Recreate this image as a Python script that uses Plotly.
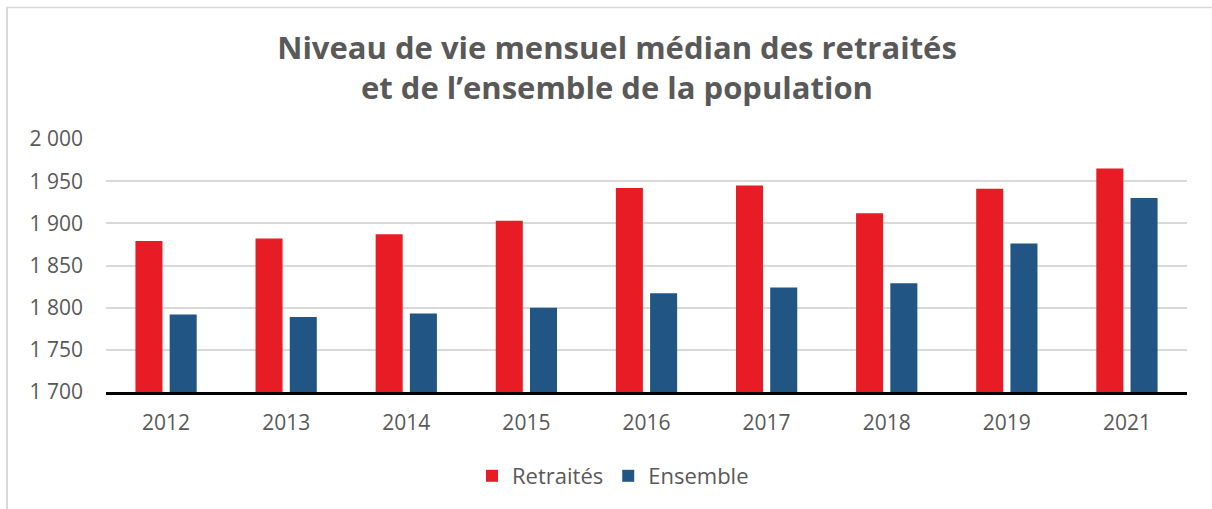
import plotly.graph_objects as go

years = ["2012", "2013", "2014", "2015", "2016", "2017", "2018", "2019", "2021"]
retraites = [1879, 1882, 1887, 1903, 1942, 1945, 1912, 1941, 1965]
ensemble = [1792, 1789, 1793, 1800, 1817, 1824, 1829, 1876, 1930]
y_ticks = [1700, 1750, 1800, 1850, 1900, 1950, 2000]
y_tick_labels = ["1 700", "1 750", "1 800", "1 850", "1 900", "1 950", "2 000"]

W, H = 1212, 509
ML, MR, MT, MB = 106, 25, 139, 117
PW, PH = W - ML - MR, H - MT - MB

def px(x):
    return (x - ML) / PW

def py(y):
    return (H - MB - y) / PH

FONT = "Open Sans"
GRAY = "#595959"

fig = go.Figure()
fig.add_trace(go.Bar(x=years, y=retraites, name="Retraités",
                     marker=dict(color="#E81C24", line=dict(width=0))))
fig.add_trace(go.Bar(x=years, y=ensemble, name="Ensemble",
                     marker=dict(color="#215584", line=dict(width=0))))

fig.update_layout(
    width=W, height=H,
    margin=dict(l=ML, r=MR, t=MT, b=MB),
    paper_bgcolor="white", plot_bgcolor="white",
    barmode="group", bargap=0.43, bargroupgap=0.21,
    title=dict(text="<b>Niveau de vie mensuel médian des retraités<br>et de l’ensemble de la population</b>",
               x=px(617), xanchor="center", xref="paper",
               y=1 - 59 / H, yanchor="top",
               font=dict(family=FONT, size=31, color=GRAY)),
    font=dict(family=FONT, color=GRAY),
    showlegend=True,
    legend=dict(orientation="h", x=px(613), xanchor="center", y=py(476), yanchor="middle",
                font=dict(family=FONT, size=22, color=GRAY), itemwidth=30,
                traceorder="normal"),
    xaxis=dict(showgrid=False, showline=True, linecolor="black", linewidth=2.5,
               ticks="", ticklabelstandoff=10,
               tickfont=dict(family=FONT, size=21, color=GRAY)),
    yaxis=dict(range=[1700, 2000], tickvals=y_ticks, ticktext=y_tick_labels,
               showgrid=True, gridcolor="#D9D9D9", gridwidth=1.5,
               zeroline=False, showline=False, ticks="",
               ticklabelstandoff=22,
               tickfont=dict(family=FONT, size=21, color=GRAY)),
    shapes=[
        dict(type="line", xref="paper", yref="paper", x0=px(6), x1=px(1230),
             y0=py(7.5), y1=py(7.5), line=dict(color="#D9D9D9", width=1.5)),
        dict(type="line", xref="paper", yref="paper", x0=px(7), x1=px(7),
             y0=py(7), y1=py(520), line=dict(color="#D9D9D9", width=2)),
    ],
)

fig.write_html("out.html", config={"displayModeBar": False},
               post_script="document.body.style.margin='0';")
